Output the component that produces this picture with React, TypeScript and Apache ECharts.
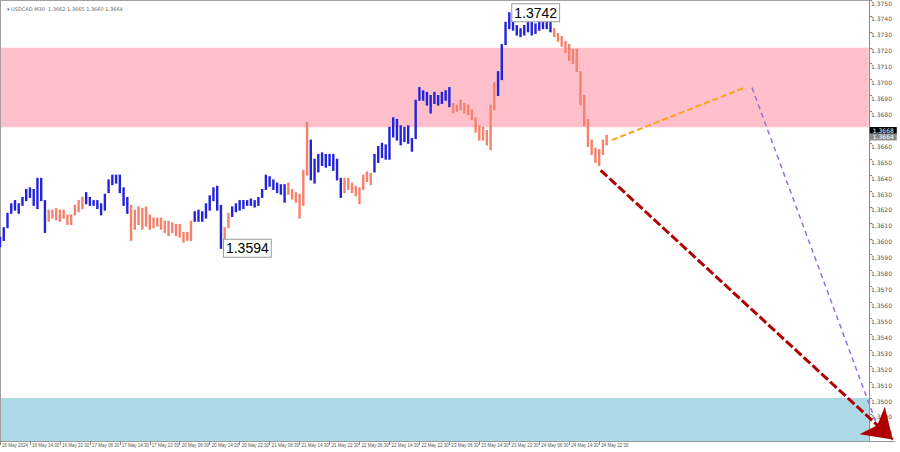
import React, { useEffect, useRef } from "react";
import * as echarts from "echarts";

// ---- data (hourly bars, index 0 = 16 May 2024 06:30) ----
const highs = [
  1.3601, 1.3607, 1.3616, 1.3622, 1.3624, 1.3622, 1.3626, 1.3631, 1.3632, 1.3631,
  1.3638, 1.3638, 1.3624, 1.3618, 1.3618, 1.3619, 1.3618, 1.3618, 1.3615, 1.3615,
  1.3621, 1.3624, 1.3626, 1.3629, 1.3626, 1.3624, 1.3624, 1.3622, 1.3628, 1.3637,
  1.364, 1.364, 1.364, 1.3632, 1.3626, 1.3621, 1.3618, 1.362, 1.3619, 1.362,
  1.3615, 1.3613, 1.3613, 1.3613, 1.3611, 1.3611, 1.361, 1.3609, 1.3609, 1.3604,
  1.3604, 1.3611, 1.3617, 1.3618, 1.3617, 1.3622, 1.3627, 1.3632, 1.3633, 1.3621,
  1.3607, 1.3616, 1.362, 1.3622, 1.3624, 1.3624, 1.3624, 1.3625, 1.3624, 1.3626,
  1.3631, 1.364, 1.3639, 1.3637, 1.3635, 1.3634, 1.3634, 1.3635, 1.3631, 1.3629,
  1.3628, 1.3643, 1.3673, 1.3662, 1.365, 1.3653, 1.3654, 1.3653, 1.3653, 1.3653,
  1.365, 1.3638, 1.3638, 1.3638, 1.3635, 1.3633, 1.3632, 1.364, 1.3642, 1.3641,
  1.3653, 1.3658, 1.366, 1.3659, 1.367, 1.3676, 1.3675, 1.3671, 1.367, 1.3671,
  1.3663, 1.3687, 1.3695, 1.3693, 1.3692, 1.369, 1.3692, 1.369, 1.3692, 1.3693,
  1.3695, 1.3685, 1.3684, 1.3687, 1.3685, 1.3684, 1.3681, 1.3676, 1.3671, 1.367,
  1.3668, 1.3684, 1.3698, 1.3705, 1.3722, 1.3736, 1.3742, 1.3741, 1.3734, 1.3732,
  1.3734, 1.3739, 1.3737, 1.3735, 1.3737, 1.3737, 1.3739, 1.3739, 1.3732, 1.3729,
  1.3727, 1.3724, 1.3722, 1.3719, 1.3719, 1.3705, 1.369, 1.3675, 1.3662, 1.3657,
  1.3656, 1.3662, 1.3665,
];
const lows = [
  1.3595, 1.3599, 1.3607, 1.3616, 1.3618, 1.3616, 1.3621, 1.3624, 1.3626, 1.3621,
  1.3619, 1.3624, 1.3604, 1.3611, 1.3613, 1.3612, 1.3611, 1.3613, 1.3609, 1.3609,
  1.3615, 1.3617, 1.3619, 1.3622, 1.3621, 1.3621, 1.3619, 1.3615, 1.3618, 1.3629,
  1.3634, 1.3635, 1.3629, 1.3621, 1.3616, 1.3599, 1.3606, 1.3609, 1.3606, 1.3608,
  1.3606, 1.3607, 1.3608, 1.3606, 1.3604, 1.3602, 1.3604, 1.3602, 1.3601, 1.3598,
  1.3599, 1.3599, 1.3611, 1.3611, 1.3611, 1.3613, 1.3618, 1.3624, 1.3618, 1.3594,
  1.3599, 1.3607, 1.3614, 1.3617, 1.3618, 1.3619, 1.3621, 1.3621, 1.362, 1.3621,
  1.3626, 1.3631, 1.3633, 1.3631, 1.3629, 1.3628, 1.3623, 1.3628, 1.3625, 1.3623,
  1.3613, 1.3621, 1.364, 1.3637, 1.3635, 1.3642, 1.3646, 1.3645, 1.3646, 1.3643,
  1.3637, 1.3626, 1.3629, 1.3631, 1.3629, 1.3627, 1.3622, 1.3631, 1.3636, 1.3634,
  1.3642, 1.3648, 1.3651, 1.365, 1.365, 1.3664, 1.3662, 1.3659, 1.3661, 1.366,
  1.3655, 1.3663, 1.3687, 1.3687, 1.3684, 1.3679, 1.3685, 1.3684, 1.3685, 1.3687,
  1.3683, 1.3679, 1.368, 1.3681, 1.3679, 1.3678, 1.3675, 1.3667, 1.3662, 1.3662,
  1.3659, 1.3656, 1.3681, 1.369, 1.37, 1.3722, 1.3732, 1.3731, 1.3728, 1.3727,
  1.3728, 1.373, 1.3728, 1.3729, 1.3731, 1.3732, 1.3732, 1.373, 1.3727, 1.3724,
  1.3721, 1.3717, 1.3712, 1.371, 1.3705, 1.3684, 1.3671, 1.3658, 1.3653, 1.3648,
  1.3646, 1.3653, 1.3659,
];
// wave segments: [firstBar, lastBar, direction]
const waveSegments: [number, number, "up" | "down"][] = [
  [0, 12, "up"], [13, 22, "down"], [23, 34, "up"], [35, 51, "down"],
  [52, 59, "up"], [60, 61, "down"], [62, 76, "up"], [77, 82, "down"],
  [83, 91, "up"], [92, 99, "down"], [100, 120, "up"], [121, 132, "down"],
  [133, 147, "up"], [148, 162, "down"],
];
const xTickLabels = [
  "16 May 2024", "16 May 14:30", "16 May 22:30", "17 May 06:30", "17 May 14:30",
  "17 May 22:30", "20 May 06:30", "20 May 14:30", "20 May 22:30", "21 May 06:30",
  "21 May 14:30", "21 May 22:30", "22 May 06:30", "22 May 14:30", "22 May 22:30",
  "23 May 06:30", "23 May 14:30", "23 May 22:30", "24 May 06:30", "24 May 14:30",
  "24 May 22:30",
];
const yTicks = [
  1.348, 1.349, 1.35, 1.351, 1.352, 1.353, 1.354, 1.355, 1.356, 1.357,
  1.358, 1.359, 1.36, 1.361, 1.362, 1.363, 1.364, 1.365, 1.366, 1.367,
  1.368, 1.369, 1.37, 1.371, 1.372, 1.373, 1.374, 1.375,
];
const barsPerTick = 8;
const priceRange = [1.3473, 1.375];
const targetZone = [1.367, 1.372];
const supportZone = [1.3473, 1.35];
const chartEndIndex = 232;
const orangePath = [[163.4, 1.3662], [198.9, 1.3695]];
const purplePath = [[200.8, 1.3695], [234.2, 1.3483]];
const redArrow = [[160.4, 1.3643], [238.4, 1.3474]];
const extremes = [
  { idx: 136, price: 1.3742 },
  { idx: 59, price: 1.3594 },
];
const priceMarks = [
  { price: 1.3668, bg: "#000000", fg: "#ffffff" },
  { price: 1.3664, bg: "#8a8a8a", fg: "#ffffff" },
];
const titleText = "\u25BE USDCAD,M30  1.3662 1.3665 1.3660 1.3664";

const BLUE = "#2323dc";
const SALMON = "#f7806c";

export default function App() {
  const ref = useRef<HTMLDivElement>(null);
  useEffect(() => {
    if (!ref.current) return;
    const chart = echarts.init(ref.current, null, { renderer: "svg" });
    const dirOf = (i: number) => {
      const s = waveSegments.find((w) => i >= w[0] && i <= w[1]);
      return s && s[2] === "up" ? 1 : 0;
    };
    const barData = highs.map((h, i) => [i, lows[i], h, dirOf(i)]);
    const xTickIdx = xTickLabels.map((_, k) => k * barsPerTick);
    const font = "Liberation Sans";

    const option: any = {
      animation: false,
      backgroundColor: "#ffffff",
      title: {
        text: titleText,
        left: 2,
        top: 1,
        textStyle: { fontSize: 5, color: "#666", fontWeight: "normal", fontFamily: "DejaVu Sans" },
      },
      grid: { left: 0, right: 5, top: 0, bottom: 11, containLabel: false, outerBoundsMode: "none" },
      xAxis: {
        type: "value",
        min: 0,
        max: 239,
        interval: 8,
        axisLine: { show: true, onZero: false, lineStyle: { color: "#999" } },
        axisTick: { show: true, length: 4, customValues: xTickIdx, lineStyle: { color: "#888" } },
        axisLabel: {
          customValues: xTickIdx,
          formatter: (v: number) => xTickLabels[Math.round(v / barsPerTick)] ?? "",
          fontSize: 4.5,
          color: "#555",
          fontFamily: font,
          align: "left",
          margin: 2,
          padding: [0, 0, 0, 2],
          hideOverlap: false,
          showMinLabel: true,
          showMaxLabel: true,
        },
        splitLine: { show: false },
      },
      yAxis: {
        type: "value",
        position: "right",
        offset: -26,
        min: priceRange[0],
        max: priceRange[1],
        axisLine: { show: true, onZero: false, lineStyle: { color: "#888" } },
        axisTick: { show: true, length: 3, customValues: yTicks, lineStyle: { color: "#888" } },
        axisLabel: {
          customValues: yTicks,
          formatter: (v: number) => v.toFixed(4),
          fontSize: 6,
          color: "#555",
          fontFamily: "DejaVu Sans",
          margin: 2,
          verticalAlign: "top",
        },
        splitLine: { show: false },
      },
      series: [
        {
          type: "line",
          data: [],
          z: 1,
          silent: true,
          markArea: {
            silent: true,
            data: [
              [
                { xAxis: 0, yAxis: targetZone[1], itemStyle: { color: "#ffc0cb" } },
                { xAxis: chartEndIndex, yAxis: targetZone[0] },
              ],
              [
                { xAxis: 0, yAxis: supportZone[1], itemStyle: { color: "#add8e6" } },
                { xAxis: chartEndIndex, yAxis: supportZone[0] },
              ],
            ],
          },
          markLine: {
            silent: true,
            symbol: "none",
            label: { show: false },
            lineStyle: { color: "#a0a0a0", width: 1, type: "solid" },
            data: [
              [{ coord: [0, priceRange[1]] }, { coord: [chartEndIndex, priceRange[1]] }],
              [{ coord: [0, priceRange[0]] }, { coord: [0, priceRange[1]] }],
            ],
          },
        },
        {
          type: "custom",
          z: 5,
          data: barData,
          encode: { x: 0, y: [1, 2] },
          renderItem: (params: any, api: any) => {
            const x = api.value(0);
            const lo = api.coord([x, api.value(1)]);
            const hi = api.coord([x, api.value(2)]);
            return {
              type: "line",
              shape: { x1: lo[0], y1: lo[1] + 0.5, x2: hi[0], y2: hi[1] - 0.5 },
              style: { stroke: api.value(3) === 1 ? BLUE : SALMON, lineWidth: 2.4 },
            };
          },
        },
        {
          type: "line",
          z: 6,
          clip: false,
          symbol: "none",
          data: orangePath,
          lineStyle: { color: "#ffa21c", width: 2, type: [6, 3] },
        },
        {
          type: "line",
          z: 6,
          clip: false,
          symbol: "none",
          data: purplePath,
          lineStyle: { color: "#9a6ee0", width: 1.5, type: [5, 4] },
        },
        {
          type: "line",
          z: 7,
          data: [],
          clip: false,
          markLine: {
            silent: true,
            symbol: ["none", "arrow"],
            symbolSize: 28,
            label: { show: false },
            lineStyle: { color: "#b00000", width: 3, type: [9, 3] },
            itemStyle: { color: "#c80000" },
            data: [[{ coord: redArrow[0] }, { coord: redArrow[1] }]],
          },
        },
        {
          type: "line",
          z: 8,
          data: [],
          markPoint: {
            silent: true,
            symbol: "rect",
            symbolSize: 0,
            label: {
              show: true,
              position: "right",
              distance: 3,
              formatter: (p: any) => Number(p.value).toFixed(4),
              fontSize: 14,
              fontFamily: font,
              color: "#000",
              backgroundColor: "#ffffff",
              borderColor: "#9a9a9a",
              borderWidth: 1,
              padding: [2, 2, 1, 2],
            },
            data: extremes.map((e) => ({ coord: [e.idx, e.price], value: e.price })),
          },
        },
        {
          type: "line",
          z: 9,
          data: [],
          clip: false,
          markLine: {
            silent: true,
            symbol: "none",
            lineStyle: { color: "rgba(0,0,0,0)", width: 1 },
            data: priceMarks.map((m) => [
              {
                coord: [0, m.price],
                label: {
                  show: true,
                  position: "end",
                  distance: 1,
                  formatter: () => m.price.toFixed(4),
                  fontSize: 6,
                  fontFamily: "DejaVu Sans",
                  color: m.fg,
                  backgroundColor: m.bg,
                  padding: [1, 3, 0, 3],
                },
              },
              { coord: [chartEndIndex, m.price] },
            ]),
          },
        },
      ],
    };
    chart.setOption(option);
    return () => chart.dispose();
  }, []);
  return (
    <div
      ref={ref}
      style={{ position: "fixed", left: 0, top: 0, width: 900, height: 452, background: "#fff" }}
    />
  );
}
